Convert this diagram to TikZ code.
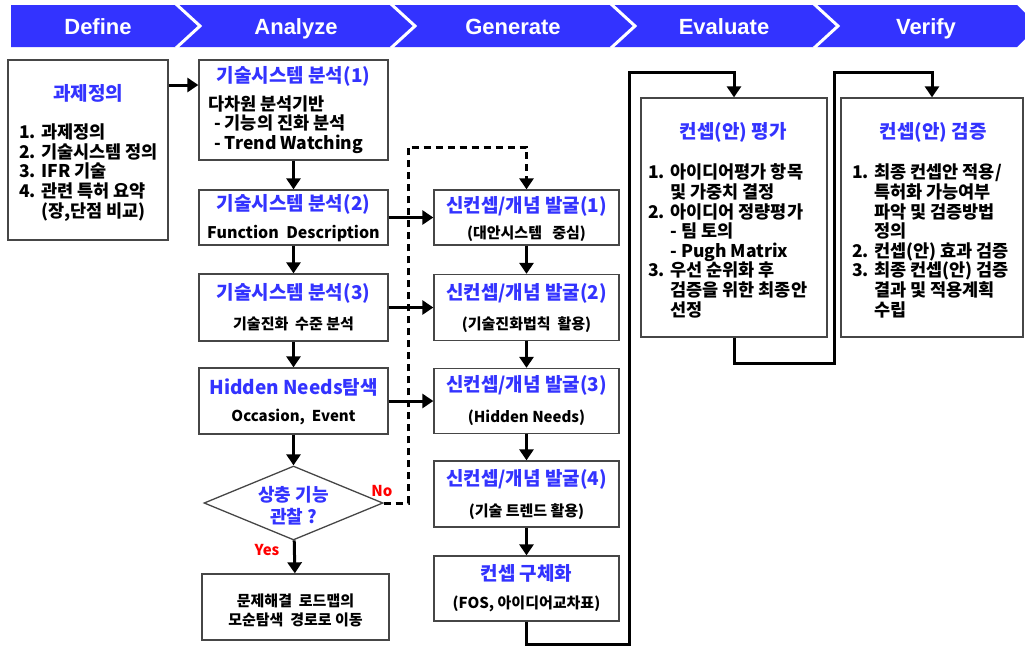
\documentclass[tikz,border=0pt]{standalone}
\usepackage{fontspec}
\setmainfont{Noto Sans CJK KR}
\newfontfamily\headfont{Liberation Sans}
\usetikzlibrary{arrows.meta,shapes.geometric}
\definecolor{HeadCol}{RGB}{51,51,255}
\definecolor{TitleCol}{RGB}{51,51,255}
\definecolor{LineCol}{RGB}{70,70,70}
\definecolor{AnsCol}{RGB}{255,0,0}
\tikzstyle{box} = [draw=LineCol, line width=1.3pt, inner sep=0pt]
\tikzstyle{head} = [text=white, anchor=base, font=\headfont\fontsize{22}{24}\selectfont\bfseries]
\tikzstyle{title} = [text=TitleCol, font=\fontsize{19}{22}\selectfont\bfseries]
\tikzstyle{body} = [align=left, inner sep=0pt, font=\fontsize{17.5}{19.6}\selectfont\bfseries]
\tikzstyle{small} = [align=center, font=\fontsize{15}{19}\selectfont\bfseries]
\tikzstyle{flow} = [line width=3pt, -{Triangle[width=14pt,length=11pt]}]
\tikzstyle{noflow} = [flow, dash pattern=on 7pt off 5pt]
\tikzstyle{answer} = [text=AnsCol, font=\fontsize{15}{18}\selectfont\bfseries]

\begin{document}
\begin{tikzpicture}[x=1pt, y=-1pt]
    \useasboundingbox (0,0) rectangle (1025,649);
    % phase band
    \fill[HeadCol] (11,5) -- (1017,5) -- (1038,26) -- (1017,47) -- (11,47) -- cycle;
    \foreach \s in {176,391,611,814}
        \draw[white, line width=3pt] (\s,4) -- (\s+24,26) -- (\s,48);
    \node[head] (hdefine) at (98,34) {Define};
    \node[head] (hanalyze) at (296,34) {Analyze};
    \node[head] (hgenerate) at (513,34) {Generate};
    \node[head] (hevaluate) at (724,34) {Evaluate};
    \node[head] (hverify) at (926,34) {Verify};

    % define
    \node[box, minimum width=160pt, minimum height=180pt] (define) at (88,150) {};
    \node[title] (definet) at (88,93) {과제정의};
    \node[body, anchor=west] (defineb) at (19,172.5) {1. 과제정의\\2. 기술시스템 정의\\3. IFR 기술\\4. 관련 특허 요약\\\phantom{4. }(장,단점 비교)};

    % analyze
    \node[box, minimum width=189pt, minimum height=100pt] (a1) at (293.5,110) {};
    \node[title] (a1t) at (293.5,76) {기술시스템 분석(1)};
    \node[body, anchor=west] (a1b) at (208,124.5) {다차원 분석기반\\\hspace*{6pt}- 기능의 진화 분석\\\hspace*{6pt}- Trend Watching};
    \node[box, minimum width=189pt, minimum height=55pt] (a2) at (293.5,217.5) {};
    \node[title] (a2t) at (293.5,204) {기술시스템 분석(2)};
    \node[small, font=\fontsize{16}{19}\selectfont\bfseries] (a2b) at (293.5,233) {Function\ \ Description};
    \node[box, minimum width=189pt, minimum height=67pt] (a3) at (293.5,307.5) {};
    \node[title] (a3t) at (293.5,293) {기술시스템 분석(3)};
    \node[small] (a3b) at (293.5,324) {기술진화\ \ 수준 분석};
    \node[box, minimum width=189pt, minimum height=66pt] (hn) at (293.5,401) {};
    \node[title] (hnt) at (293.5,387) {Hidden Needs탐색};
    \node[small] (hnb) at (293.5,417) {Occasion,\ \ Event};
    \node[box, shape=diamond, minimum width=179pt, minimum height=74pt] (dec) at (293.5,503) {};
    \node[title, align=center, font=\fontsize{18}{22}\selectfont\bfseries] (dect) at (293.5,506) {상충 기능\\관찰 ?};
    \node[box, minimum width=187pt, minimum height=66pt] (final) at (295.5,607) {};
    \node[small] (finalb) at (295.5,610.5) {문제해결\ \ 로드맵의\\모순탐색\ \ 경로로 이동};

    % generate
    \node[box, minimum width=185pt, minimum height=55pt] (g1) at (526.5,217.5) {};
    \node[title] (g1t) at (526.5,206) {신컨셉/개념 발굴(1)};
    \node[small] (g1b) at (526.5,234) {(대안시스템\ \ \ 중심)};
    \node[box, minimum width=185pt, minimum height=66pt] (g2) at (526.5,307.5) {};
    \node[title] (g2t) at (526.5,293) {신컨셉/개념 발굴(2)};
    \node[small] (g2b) at (526.5,325) {(기술진화법칙\ \ 활용)};
    \node[box, minimum width=185pt, minimum height=65pt] (g3) at (526.5,401) {};
    \node[title] (g3t) at (526.5,385) {신컨셉/개념 발굴(3)};
    \node[small] (g3b) at (526.5,418) {(Hidden Needs)};
    \node[box, minimum width=185pt, minimum height=66pt] (g4) at (526.5,494) {};
    \node[title] (g4t) at (526.5,479) {신컨셉/개념 발굴(4)};
    \node[small] (g4b) at (526.5,512) {(기술\ 트렌드\ 활용)};
    \node[box, minimum width=185pt, minimum height=65pt] (concept) at (526.5,588.5) {};
    \node[title] (conceptt) at (526.5,573) {컨셉 구체화};
    \node[small] (conceptb) at (526.5,604) {(FOS,\ 아이디어교차표)};

    % evaluate, verify
    \node[box, minimum width=186pt, minimum height=239pt] (eval) at (734,217.5) {};
    \node[title] (evalt) at (733,132) {컨셉(안) 평가};
    \node[body, anchor=west] (evalb) at (648,241) {1. 아이디어평가 항목\\\phantom{1. }및 가중치 결정\\2. 아이디어 정량평가\\\phantom{2. }- 팀 토의\\\phantom{2. }- Pugh Matrix\\3. 우선 순위화 후\\\phantom{3. }검증을 위한 최종안\\\phantom{3. }선정};
    \node[box, minimum width=182pt, minimum height=239pt] (verify) at (932,217.5) {};
    \node[title] (verifyt) at (933,132) {컨셉(안) 검증};
    \node[body, anchor=west] (verifyb) at (852,241) {1. 최종 컨셉안 적용/\\\phantom{1. }특허화 가능여부\\\phantom{1. }파악 및 검증방법\\\phantom{1. }정의\\2. 컨셉(안) 효과 검증\\3. 최종 컨셉(안) 검증\\\phantom{3. }결과 및 적용계획\\\phantom{3. }수립};

    % connectors
    \draw[flow] (define.east |- 0,85) -- (a1.west |- 0,85);
    \draw[flow] (a1) -- (a2);
    \draw[flow] (a2) -- (a3);
    \draw[flow] (a3) -- (hn);
    \draw[flow] (hn) -- (dec);
    \draw[flow] (dec) -- (final);
    \draw[flow] (a2) -- (g1);
    \draw[flow] (a3) -- (g2);
    \draw[flow] (hn) -- (g3);
    \draw[flow] (g1) -- (g2);
    \draw[flow] (g2) -- (g3);
    \draw[flow] (g3) -- (g4);
    \draw[flow] (g4) -- (concept);
    \coordinate (nobend) at (408,147);
    \draw[noflow] (dec.east) -| (nobend) -| (g1.north);
    \node[answer] (no) at (382,491) {No};
    \node[answer] (yes) at (267,550) {Yes};
    \coordinate (lowturn) at (629,644);
    \coordinate (topturn) at (629,72);
    \draw[flow] (concept.south) |- (lowturn) -- (topturn) -| (eval.north);
    \coordinate (midturn) at (834,363);
    \coordinate (topturn2) at (834,72);
    \draw[flow] (eval.south) |- (midturn) -- (topturn2) -| (verify.north);
\end{tikzpicture}
\end{document}
